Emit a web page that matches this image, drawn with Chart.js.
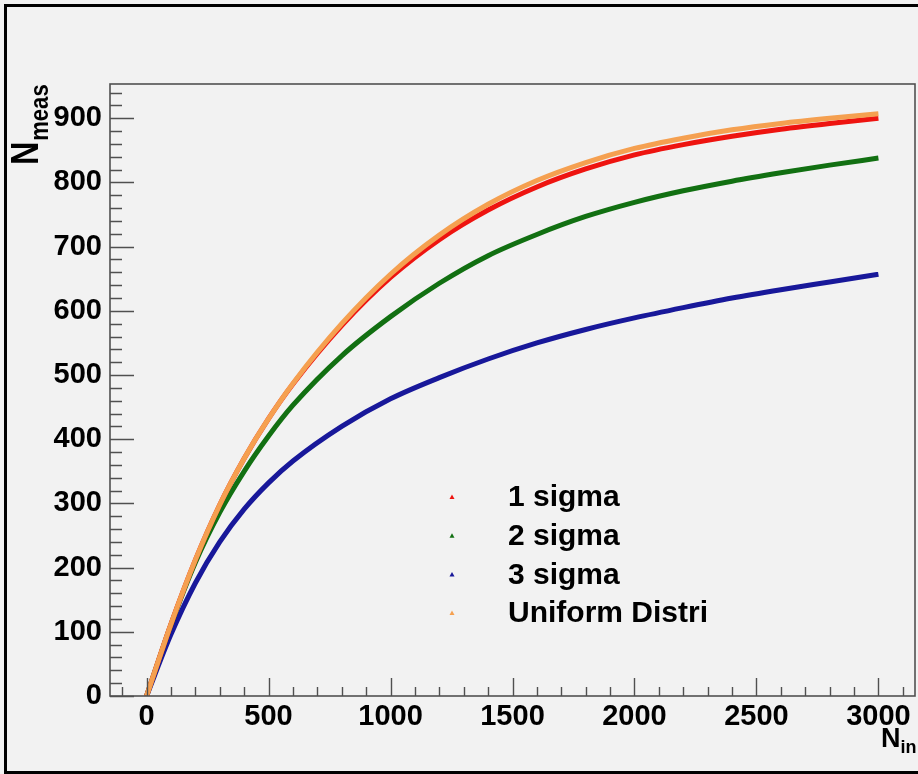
<!DOCTYPE html>
<html>
<head>
<meta charset="utf-8">
<title>N_meas vs N_in</title>
<script src="https://cdn.jsdelivr.net/npm/chart.js@4.4.1/dist/chart.umd.min.js"></script>
<style>
  html, body { margin: 0; padding: 0; background: #f2f2f2; }
  #wrap { position: relative; width: 918px; height: 774px; }
  canvas { display: block; }
</style>
</head>
<body>
<div id="wrap"><canvas id="c" width="918" height="774"></canvas></div>
<script>
// Number of injected hits (x) and measured hits (y) for each spread
const nIn = [0, 100, 200, 300, 400, 500, 600, 800, 1000, 1200, 1400, 1600, 1800, 2000, 2200, 2400, 2600, 2800, 3000];
const oneSigma      = [0, 112, 212, 298, 370, 432, 486, 577, 652, 711, 757, 793, 821, 843, 859, 872, 883, 892, 900];
const twoSigma      = [0, 111, 208, 286, 350, 405, 453, 530, 591, 643, 686, 719, 747, 769, 787, 802, 815, 827, 838];
const threeSigma    = [0, 96, 176, 240, 291, 332, 366, 420, 463, 496, 525, 550, 571, 589, 605, 620, 633, 645, 657];
const uniformDistri = [0, 112, 212, 298, 370, 432, 487, 580, 657, 718, 766, 803, 831, 853, 869, 882, 892, 900, 907];

const seriesNames  = ['1 sigma', '2 sigma', '3 sigma', 'Uniform Distri'];
const seriesColors = ['#ee1410', '#127012', '#18189a', '#f5a050'];
const seriesValues = [oneSigma, twoSigma, threeSigma, uniformDistri];
const drawOrder    = [1, 2, 3, 0];

const xTickValues = [0, 500, 1000, 1500, 2000, 2500, 3000];
const yTickValues = [0, 100, 200, 300, 400, 500, 600, 700, 800, 900];
const xRange = [-150, 3150];
const yRange = [0, 953.4];
const xMinorStep = 100;
const yMinorStep = 20;

const FONT = '"Liberation Sans", Arial, Helvetica, sans-serif';

const datasets = seriesValues.map((vals, i) => ({
  label: seriesNames[i],
  data: nIn.map((x, k) => ({ x: x, y: vals[k] })),
  borderColor: seriesColors[i],
  backgroundColor: seriesColors[i],
  borderWidth: 5,
  pointRadius: 0,
  cubicInterpolationMode: 'monotone',
  fill: false,
  order: drawOrder[i]
}));

// ROOT-like frame: box, inward ticks, axis titles, legend, outer border
const rootFrame = {
  id: 'rootFrame',
  beforeDraw(chart) {
    const ctx = chart.ctx;
    ctx.save();
    ctx.fillStyle = '#f2f2f2';
    ctx.fillRect(0, 0, chart.width, chart.height);
    ctx.restore();
  },
  afterDraw(chart) {
    const { ctx, chartArea: a, scales } = chart;
    const xs = scales.x, ys = scales.y;
    ctx.save();

    // frame box
    ctx.strokeStyle = '#505050';
    ctx.lineWidth = 1.6;
    ctx.strokeRect(a.left, a.top, a.right - a.left, a.bottom - a.top);

    // y ticks (inward, to the right)
    ctx.lineWidth = 1.4;
    ctx.beginPath();
    for (let v = yRange[0]; v <= yRange[1]; v += yMinorStep) {
      const py = Math.round(ys.getPixelForValue(v)) + 0.5;
      const major = yTickValues.includes(v);
      ctx.moveTo(a.left, py);
      ctx.lineTo(a.left + (major ? 24 : 12), py);
    }
    // x ticks (inward, upward)
    for (let v = -100; v <= xRange[1]; v += xMinorStep) {
      const px = Math.round(xs.getPixelForValue(v)) + 0.5;
      const major = xTickValues.includes(v);
      ctx.moveTo(px, a.bottom);
      ctx.lineTo(px, a.bottom - (major ? 18 : 9));
    }
    ctx.stroke();

    ctx.fillStyle = '#000';
    ctx.textAlign = 'left';
    ctx.textBaseline = 'alphabetic';

    // y title: N_meas, rotated
    ctx.save();
    ctx.translate(38, 165);
    ctx.rotate(-Math.PI / 2);
    ctx.scale(0.85, 1);
    ctx.font = 'bold 38px ' + FONT;
    ctx.fillText('N', 0, 0);
    const wN = ctx.measureText('N').width;
    ctx.font = 'bold 26px ' + FONT;
    ctx.fillText('meas', wN + 1, 10);
    ctx.restore();

    // x title: N_in
    ctx.font = 'bold 27px ' + FONT;
    ctx.fillText('N', 881, 747);
    const wNx = ctx.measureText('N').width;
    ctx.font = 'bold 18px ' + FONT;
    ctx.fillText('in', 881 + wNx, 753);

    // legend
    const legX = 452, legTextX = 508, legTop = 497, legStep = 38.7;
    ctx.font = 'bold 30px ' + FONT;
    ctx.textBaseline = 'middle';
    seriesNames.forEach((name, i) => {
      const cy = legTop + i * legStep;
      ctx.fillStyle = seriesColors[i];
      ctx.beginPath();
      ctx.moveTo(legX, cy - 2.5);
      ctx.lineTo(legX + 2.5, cy + 2);
      ctx.lineTo(legX - 2.5, cy + 2);
      ctx.closePath();
      ctx.fill();
      ctx.fillStyle = '#000';
      ctx.fillText(name, legTextX, cy + 1);
    });

    // outer border: left, top and bottom edges
    ctx.strokeStyle = '#000';
    ctx.lineWidth = 3;
    ctx.beginPath();
    ctx.moveTo(918, 5.5);
    ctx.lineTo(5.5, 5.5);
    ctx.lineTo(5.5, 772.5);
    ctx.lineTo(918, 772.5);
    ctx.stroke();
    ctx.restore();
  }
};

new Chart(document.getElementById('c'), {
  type: 'line',
  data: { datasets: datasets },
  options: {
    responsive: false,
    animation: false,
    devicePixelRatio: 1,
    layout: { padding: { left: 0, top: 84, right: 3, bottom: 0 } },
    plugins: { legend: { display: false }, tooltip: { enabled: false } },
    scales: {
      x: {
        type: 'linear',
        min: xRange[0],
        max: xRange[1],
        afterBuildTicks: s => { s.ticks = xTickValues.map(v => ({ value: v })); },
        afterFit: s => { s.height = 78; },
        grid: { display: false, drawTicks: false },
        border: { display: false },
        ticks: {
          color: '#000',
          padding: 4,
          maxRotation: 0,
          autoSkip: false,
          callback: v => String(v),
          font: { family: FONT, size: 29, weight: 'bold' }
        }
      },
      y: {
        type: 'linear',
        min: yRange[0],
        max: yRange[1],
        afterBuildTicks: s => { s.ticks = yTickValues.map(v => ({ value: v })); },
        afterFit: s => { s.width = 110; },
        grid: { display: false, drawTicks: false },
        border: { display: false },
        ticks: {
          color: '#000',
          padding: 8,
          autoSkip: false,
          callback: v => String(v),
          font: { family: FONT, size: 29, weight: 'bold' }
        }
      }
    }
  },
  plugins: [rootFrame]
});
</script>
</body>
</html>
